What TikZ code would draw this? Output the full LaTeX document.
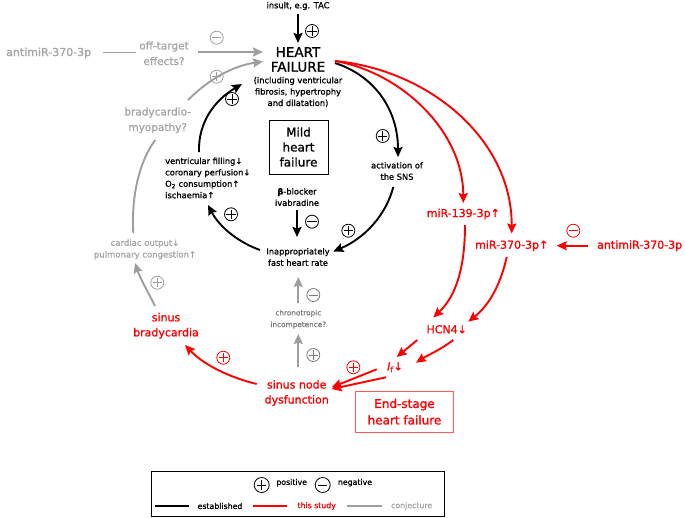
\documentclass[tikz,border=0pt]{standalone}
\usepackage{fontspec}
\setmainfont{DejaVu Sans}[RawFeature={embolden=1.2}]
\usetikzlibrary{arrows.meta}
\definecolor{hfred}{RGB}{255,0,0}
\definecolor{boxred}{RGB}{255,90,90}
\definecolor{lgray}{RGB}{165,165,165}
\definecolor{mgray}{RGB}{158,158,158}
\definecolor{dgray}{RGB}{125,125,125}
\newcommand{\fsz}[2]{\fontsize{#1}{#2}\selectfont}
\begin{document}
\begin{tikzpicture}[x=1pt,y=-1pt,
  >={Stealth[length=10pt,width=9pt,inset=1.5pt]},
  conn/.style={line width=1.9pt,->},
  plainline/.style={line width=1.9pt},
  sm/.style={align=center,inner sep=0pt,font=\fsz{8.3}{11.4}},
  mid/.style={align=center,inner sep=0pt,font=\fsz{10.5}{15.5}},
  lg/.style={align=center,inner sep=0pt,font=\fsz{11}{15}},
  pcirc/.style={circle,draw,minimum size=13pt,inner sep=0pt,line width=0.8pt,
    path picture={\draw[line width=0.8pt] ([xshift=-4.6pt]path picture bounding box.center) -- ([xshift=4.6pt]path picture bounding box.center);
                  \draw[line width=0.8pt] ([yshift=-4.6pt]path picture bounding box.center) -- ([yshift=4.6pt]path picture bounding box.center);}},
  mcirc/.style={circle,draw,minimum size=13pt,inner sep=0pt,line width=0.8pt,
    path picture={\draw[line width=0.8pt] ([xshift=-4.6pt]path picture bounding box.center) -- ([xshift=4.6pt]path picture bounding box.center);}},
  bigc/.style={minimum size=15pt}
]
\useasboundingbox (0,0) rectangle (685,517);

% ---------- nodes (black) ----------
\node[sm] (insult) at (298,6) {insult, e.g. TAC};
\node[align=center,inner sep=0pt,font=\fsz{13.5}{14.7}] (hf) at (298,59.5) {HEART\\FAILURE};
\node[sm] (hfsub) at (298,92) {(including ventricular\\fibrosis, hypertrophy\\and dilatation)};
\node[draw,line width=0.8pt,minimum width=59pt,minimum height=54pt,inner sep=0pt,align=center,font=\fsz{12}{15}] (mild) at (298.5,147) {Mild\\heart\\failure};
\node[sm,align=left,anchor=west] (vent) at (165,178) {ventricular filling↓\\coronary perfusion↓\\O\textsubscript{2} consumption↑\\ischaemia↑};
\node[sm] (bb) at (297,197) {\textbf{β}-blocker\\ivabradine};
\node[sm] (inapp) at (298,257) {Inappropriately\\fast heart rate};
\node[sm] (sns) at (397,171) {activation of\\the SNS};

% ---------- nodes (gray) ----------
\node[lg,text=lgray,anchor=west] (antig) at (6,53) {antimiR-370-3p};
\node[mid,text=lgray] (offt) at (164,53.3) {off-target\\effects?};
\node[mid,text=lgray] (bcm) at (157.7,120.3) {bradycardio-\\myopathy?};
\node[sm,text=lgray,font=\fsz{8.5}{11.7}] (cardiac) at (145,249.3) {cardiac output↓\\pulmonary congestion↑};
\node[align=center,inner sep=0pt,font=\fsz{7.3}{11.7},text=dgray] (chrono) at (298.3,319.2) {chronotropic\\incompetence?};

% ---------- nodes (red) ----------
\node[lg,text=hfred] (sino) at (296.7,393) {sinus node\\dysfunction};
\node[lg,text=hfred] (brady) at (166,325.8) {sinus\\bradycardia};
\node[lg,text=hfred] (mir139) at (463.3,214) {miR-139-3p↑};
\node[lg,text=hfred] (mir370) at (511.7,245.7) {miR-370-3p↑};
\node[lg,text=hfred,anchor=west] (antir) at (597,245.7) {antimiR-370-3p};
\node[lg,text=hfred] (hcn4) at (446.7,329.3) {HCN4↓};
\node[lg,text=hfred] (ifn) at (395,367.3) {\textit{I}\textsubscript{f}↓};
\node[draw=boxred,line width=0.8pt,minimum width=97.6pt,minimum height=41.3pt,inner sep=0pt,align=center,text=hfred,font=\fsz{12}{16.5}] (endst) at (404.5,411.7) {End-stage\\heart failure};

% ---------- connector end points ----------
\coordinate (a1) at (298,14);   \coordinate (a2) at (298,43);
\coordinate (g1) at (103,52.5); \coordinate (g2) at (136,52.5);
\coordinate (g3) at (198,52);   \coordinate (g4) at (263,52);
\coordinate (g5) at (188,100);  \coordinate (g6) at (263,61.5);
\coordinate (g7) at (133.3,233); \coordinate (g8) at (155.3,140);
\coordinate (g9) at (155,306);  \coordinate (g10) at (135,263);
\coordinate (g11) at (298.3,303); \coordinate (g12) at (298.3,277);
\coordinate (g13) at (298.3,367); \coordinate (g14) at (298.3,334);
\coordinate (b1) at (199,152);  \coordinate (b2) at (242,84);
\coordinate (b3) at (335,63);   \coordinate (b4) at (398,157);
\coordinate (b5) at (393.3,187); \coordinate (b6) at (333.3,251.5);
\coordinate (b7) at (260,250);  \coordinate (b8) at (208,205);
\coordinate (b9) at (297,210);  \coordinate (b10) at (297,237);
\coordinate (r0) at (335,61);
\coordinate (r1) at (463.3,203); \coordinate (r2) at (511.7,233.5);
\coordinate (r3) at (588.3,245.7); \coordinate (r4) at (556.7,245.7);
\coordinate (r5) at (465,225);  \coordinate (r6) at (433.3,317.5);
\coordinate (r7) at (506.7,257); \coordinate (r8) at (468.3,321.7);
\coordinate (r9) at (417.3,340); \coordinate (r10) at (396.7,357);
\coordinate (r11) at (453.3,340); \coordinate (r12) at (416,362.7);
\coordinate (r13) at (376.7,369.3); \coordinate (r14) at (331.7,387.3);
\coordinate (r15) at (386,377.3); \coordinate (r16) at (331.7,389);
\coordinate (r17) at (256.7,384); \coordinate (r18) at (185,345);

% ---------- black connectors ----------
\draw[conn] (a1) -- (a2);
\draw[conn] (b1) .. controls (198,122) and (215,100) .. (b2);
\draw[conn] (b3) .. controls (375,76) and (398,110) .. (b4);
\draw[conn] (b5) .. controls (386,215) and (365,238) .. (b6);
\draw[conn] (b7) .. controls (240,243) and (220,228) .. (b8);
\draw[conn] (b9) -- (b10);

% ---------- gray connectors ----------
\draw[plainline,mgray] (g1) -- (g2);
\draw[conn,mgray] (g3) -- (g4);
\draw[conn,mgray] (g5) .. controls (208,80) and (232,66) .. (g6);
\draw[plainline,mgray] (g7) .. controls (131,195) and (140,160) .. (g8);
\draw[conn,mgray] (g9) .. controls (147,290) and (140,278) .. (g10);
\draw[conn,mgray] (g11) -- (g12);
\draw[conn,mgray] (g13) -- (g14);

% ---------- red connectors ----------
\draw[conn,hfred] (r0) .. controls (400,72) and (463,130) .. (r1);
\draw[conn,hfred] (r0) .. controls (430,70) and (512,140) .. (r2);
\draw[conn,hfred] (r3) -- (r4);
\draw[conn,hfred] (r5) .. controls (465,270) and (455,297) .. (r6);
\draw[conn,hfred] (r7) .. controls (500,287) and (488,306) .. (r8);
\draw[conn,hfred] (r9) -- (r10);
\draw[conn,hfred] (r11) .. controls (440,350) and (428,355) .. (r12);
\draw[conn,hfred] (r13) -- (r14);
\draw[conn,hfred] (r15) -- (r16);
\draw[conn,hfred] (r17) .. controls (232,378) and (205,366) .. (r18);

% ---------- signs ----------
\node[pcirc] (s1) at (312,31) {};
\node[mcirc,draw=mgray,path picture={\draw[mgray,line width=0.8pt] ([xshift=-4.6pt]path picture bounding box.center) -- ([xshift=4.6pt]path picture bounding box.center);}] (s2) at (216.7,37.7) {};
\node[pcirc,draw=mgray,path picture={\draw[mgray,line width=0.8pt] ([xshift=-4.6pt]path picture bounding box.center) -- ([xshift=4.6pt]path picture bounding box.center); \draw[mgray,line width=0.8pt] ([yshift=-4.6pt]path picture bounding box.center) -- ([yshift=4.6pt]path picture bounding box.center);}] (s3) at (216.7,76.7) {};
\node[pcirc] (s4) at (232,99) {};
\node[pcirc] (s5) at (382.7,136) {};
\node[pcirc] (s6) at (348.3,230.7) {};
\node[pcirc] (s7) at (231,214.3) {};
\node[mcirc] (s8) at (312,221.7) {};
\node[mcirc,draw=dgray,path picture={\draw[dgray,line width=0.8pt] ([xshift=-4.6pt]path picture bounding box.center) -- ([xshift=4.6pt]path picture bounding box.center);}] (s9) at (313.3,295) {};
\node[pcirc,draw=dgray,path picture={\draw[dgray,line width=0.8pt] ([xshift=-4.6pt]path picture bounding box.center) -- ([xshift=4.6pt]path picture bounding box.center); \draw[dgray,line width=0.8pt] ([yshift=-4.6pt]path picture bounding box.center) -- ([yshift=4.6pt]path picture bounding box.center);}] (s10) at (313.3,355) {};
\node[pcirc,draw=mgray,path picture={\draw[mgray,line width=0.8pt] ([xshift=-4.6pt]path picture bounding box.center) -- ([xshift=4.6pt]path picture bounding box.center); \draw[mgray,line width=0.8pt] ([yshift=-4.6pt]path picture bounding box.center) -- ([yshift=4.6pt]path picture bounding box.center);}] (s11) at (157.3,282.7) {};
\node[pcirc,draw=hfred,path picture={\draw[hfred,line width=0.8pt] ([xshift=-4.6pt]path picture bounding box.center) -- ([xshift=4.6pt]path picture bounding box.center); \draw[hfred,line width=0.8pt] ([yshift=-4.6pt]path picture bounding box.center) -- ([yshift=4.6pt]path picture bounding box.center);}] (s12) at (223.3,357.7) {};
\node[pcirc,draw=hfred,path picture={\draw[hfred,line width=0.8pt] ([xshift=-4.6pt]path picture bounding box.center) -- ([xshift=4.6pt]path picture bounding box.center); \draw[hfred,line width=0.8pt] ([yshift=-4.6pt]path picture bounding box.center) -- ([yshift=4.6pt]path picture bounding box.center);}] (s13) at (353.3,367.3) {};
\node[mcirc,draw=hfred,path picture={\draw[hfred,line width=0.8pt] ([xshift=-4.6pt]path picture bounding box.center) -- ([xshift=4.6pt]path picture bounding box.center);}] (s14) at (573.3,230.7) {};

% ---------- legend ----------
\node[draw,line width=0.8pt,minimum width=293pt,minimum height=44.3pt,inner sep=0pt] (legend) at (298.35,493.85) {};
\node[pcirc,bigc] (lp) at (261.7,485) {};
\node[sm,font=\fsz{7.8}{10}] (lpt) at (291.7,482.7) {positive};
\node[mcirc,bigc] (lm) at (322.7,485) {};
\node[sm,font=\fsz{7.8}{10}] (lmt) at (355,482.7) {negative};
\coordinate (l1) at (155,506); \coordinate (l2) at (189.3,506);
\coordinate (l3) at (252.7,506); \coordinate (l4) at (287.3,506);
\coordinate (l5) at (346.7,506); \coordinate (l6) at (381.7,506);
\draw[plainline] (l1) -- (l2);
\draw[plainline,hfred] (l3) -- (l4);
\draw[plainline,mgray] (l5) -- (l6);
\node[sm,font=\fsz{7.8}{10}] (lest) at (220,506) {established};
\node[sm,font=\fsz{7.8}{10},text=hfred] (lthis) at (316.7,506) {this study};
\node[sm,font=\fsz{7.8}{10},text=lgray] (lconj) at (411.7,506) {conjecture};
\end{tikzpicture}
\end{document}
